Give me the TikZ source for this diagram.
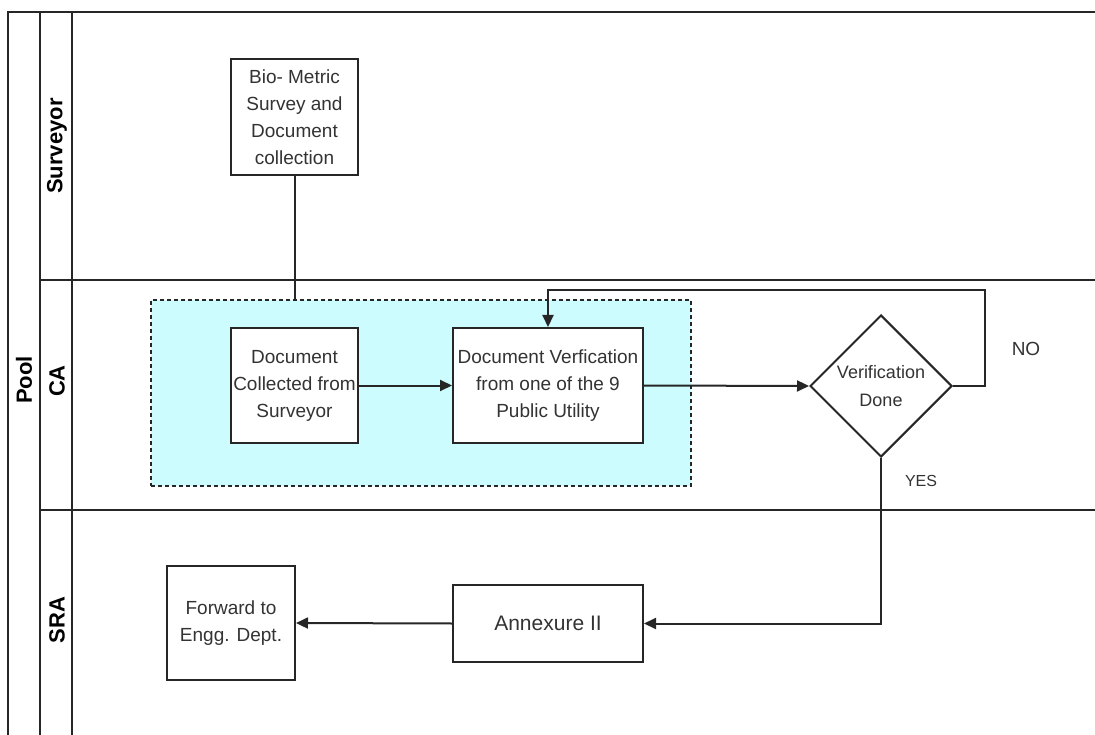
\documentclass[tikz,border=0pt]{standalone}
\usepackage{fontspec}
\setmainfont{Liberation Sans}
\usetikzlibrary{shapes.geometric,arrows.meta}
\definecolor{grpfill}{HTML}{CCFCFD}
\definecolor{ink}{HTML}{262626}
\definecolor{txt}{HTML}{333333}
\begin{document}
\begin{tikzpicture}[x=1pt,y=-1pt,
  line/.style={draw=ink, line width=2pt},
  box/.style={draw=ink, line width=2pt, fill=white, align=center, inner sep=0pt,
    font=\fontsize{19}{27}\selectfont, text=txt},
  lanelbl/.style={rotate=90, font=\bfseries\fontsize{22}{26}\selectfont, text=black},
  flow/.style={line, -{Triangle[length=12pt,width=11pt]}},
  edgelbl/.style={font=\fontsize{16}{18}\selectfont, text=txt, inner sep=0pt}
]
\useasboundingbox (0,0) rectangle (1095,735);
% pool and lanes
\draw[line] (8,745) -- (8,12) -- (1100,12);
\draw[line] (40,12) -- (40,745);
\draw[line] (72,12) -- (72,745);
\draw[line] (40,280) -- (1100,280);
\draw[line] (40,510) -- (1100,510);
\node[lanelbl] (pool) at (24,380) {Pool};
\node[lanelbl] (lsurv) at (57,146) {Surveyor};
\node[lanelbl] (lca) at (57,381) {CA};
\node[lanelbl] (lsra) at (57,620) {SRA};
% group container
\node[draw=ink, line width=1.5pt, dash pattern=on 4pt off 3pt, fill=grpfill,
      minimum width=540, minimum height=186, inner sep=0pt] (grp) at (421,393) {};
% nodes
\node[box, minimum width=127, minimum height=116] (bio) at (294.5,117)
  {Bio- Metric\\Survey and\\Document\\collection};
\node[box, minimum width=127, minimum height=115] (dc) at (294.5,385.5)
  {Document\\Collected from\\Surveyor};
\node[box, minimum width=190, minimum height=115] (dv) at (548,385.5)
  {Document Verfication\\from one of the 9\\Public Utility};
\node[box, diamond, aspect=1, minimum width=142, minimum height=142,
      font=\fontsize{18}{28}\selectfont] (dec) at (881,386)
  {Verification\\Done};
\node[box, minimum width=190, minimum height=77, font=\fontsize{21}{27}\selectfont]
  (ann) at (548,623.5) {Annexure II};
\node[box, minimum width=128, minimum height=114] (fwd) at (231,623)
  {Forward to\\Engg. Dept.};
\node[edgelbl, font=\fontsize{19}{21}\selectfont] (no) at (1026,349) {NO};
\node[edgelbl, font=\fontsize{16}{18}\selectfont] (yes) at (921,481) {YES};
% connectors
\coordinate (loop) at (985,290);
\draw[line] (bio.south) -- (bio.south |- grp.north);
\draw[flow] (dc.east) -- (dv.west);
\draw[flow] (dv.east) -- (dec.west);
\draw[flow] (dec.east) -| (loop) -| (dv.north);
\draw[flow] (dec.south) |- (ann.east);
\draw[flow] (ann.west) -- (fwd.east);
\end{tikzpicture}
\end{document}
